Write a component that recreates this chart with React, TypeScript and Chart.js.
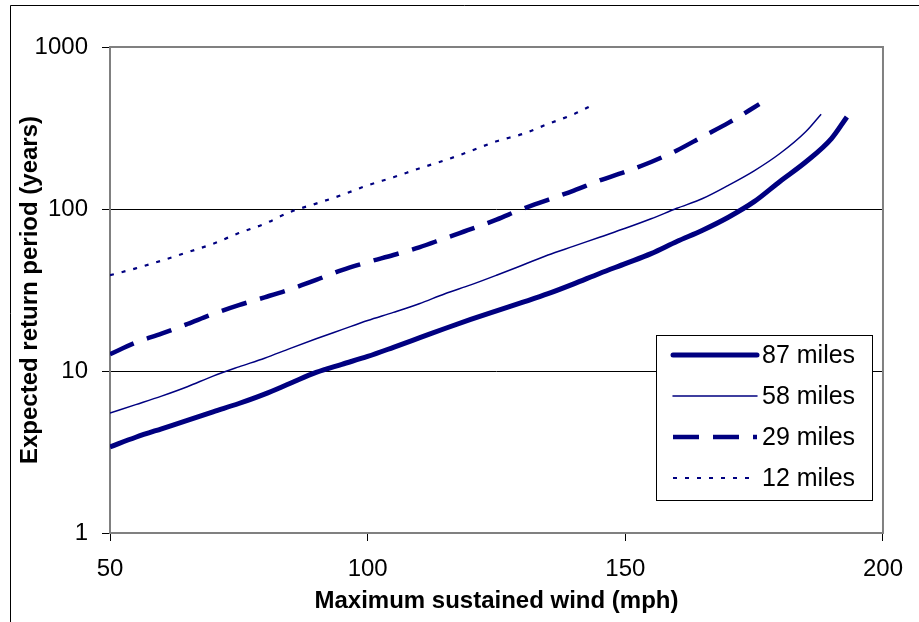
import React, { useEffect, useRef } from "react";
import { Chart, registerables } from "chart.js";

Chart.register(...registerables);

// ---- data ----
const speeds87 = [50, 55, 60, 65, 70, 75, 80, 85, 90, 95, 100, 105, 110, 115, 120, 125, 130, 135, 140, 145, 150, 155, 160, 165, 170, 175, 180, 185, 190, 193];
const period87 = [3.4, 3.9, 4.4, 4.95, 5.6, 6.3, 7.2, 8.4, 9.8, 11.0, 12.3, 14, 16, 18.3, 20.8, 23.5, 26.5, 30, 34.5, 40, 46, 53, 63, 74, 89, 111, 148, 195, 272, 370];

const speeds58 = [50, 55, 60, 65, 70, 75, 80, 85, 90, 95, 100, 105, 110, 115, 120, 125, 130, 135, 140, 145, 150, 155, 160, 165, 170, 175, 180, 185, 188];
const period58 = [5.5, 6.2, 7.0, 8.0, 9.3, 10.6, 12.0, 13.8, 15.8, 18.0, 20.5, 23, 26, 30, 34, 39, 45, 52, 59, 67, 76, 87, 101, 116, 140, 172, 220, 300, 385];

const speeds29 = [50, 55, 60, 65, 70, 75, 80, 85, 90, 95, 100, 105, 110, 115, 120, 125, 130, 135, 140, 145, 150, 155, 160, 165, 170, 176];
const period29 = [12.7, 15, 17, 19.5, 22.5, 25.5, 28.5, 32, 36.5, 42, 47, 52, 58, 66, 75, 86, 100, 114, 130, 150, 170, 195, 230, 280, 340, 444];

const speeds12 = [50, 55, 60, 65, 70, 75, 80, 85, 90, 95, 100, 105, 110, 115, 120, 125, 130, 135, 140, 144];
const period12 = [39, 43, 48, 54, 61, 71, 81, 96, 108, 122, 140, 157, 178, 200, 228, 262, 290, 335, 385, 444];

const seriesLabels = ["87 miles", "58 miles", "29 miles", "12 miles"];
const xTicks = [50, 100, 150, 200];
const yTicks = [1, 10, 100, 1000];
const xTitle = "Maximum sustained wind (mph)";
const yTitle = "Expected return period (years)";

const NAVY = "#000080";
const FONT = "'Liberation Sans', Arial, sans-serif";

const toPoints = (xs: number[], ys: number[]) => xs.map((x, i) => ({ x, y: ys[i] }));

const framePlugin = {
  id: "frame",
  beforeDraw(chart: any) {
    const ctx = chart.ctx;
    ctx.save();
    ctx.fillStyle = "#ffffff";
    ctx.fillRect(0, 0, chart.width, chart.height);
    ctx.strokeStyle = "#000000";
    ctx.lineWidth = 1;
    ctx.beginPath();
    ctx.moveTo(10.5, chart.height);
    ctx.lineTo(10.5, 5.5);
    ctx.lineTo(chart.width, 5.5);
    ctx.stroke();
    ctx.restore();
  },
  beforeDatasetsDraw(chart: any) {
    const { ctx, chartArea } = chart;
    ctx.save();
    ctx.strokeStyle = "#808080";
    ctx.lineWidth = 2;
    ctx.strokeRect(chartArea.left, chartArea.top, chartArea.right - chartArea.left, chartArea.bottom - chartArea.top);
    ctx.restore();
  },
};

const legendPlugin = {
  id: "boxLegend",
  afterDatasetsDraw(chart: any) {
    const ctx = chart.ctx;
    const box = { left: 656, top: 335, right: 872, bottom: 500 };
    const rowY = [355, 396, 437, 478];
    ctx.save();
    ctx.fillStyle = "#ffffff";
    ctx.fillRect(box.left, box.top, box.right - box.left, box.bottom - box.top);
    ctx.strokeStyle = "#000000";
    ctx.lineWidth = 1;
    ctx.strokeRect(box.left + 0.5, box.top + 0.5, box.right - box.left, box.bottom - box.top);
    chart.data.datasets.forEach((ds: any, i: number) => {
      const y = rowY[i];
      ctx.strokeStyle = ds.borderColor;
      ctx.lineWidth = ds.borderWidth;
      ctx.setLineDash(ds.borderDash || []);
      ctx.lineCap = ds.borderDash && ds.borderDash.length ? "butt" : "round";
      ctx.beginPath();
      ctx.moveTo(673, y);
      ctx.lineTo(757, y);
      ctx.stroke();
      ctx.setLineDash([]);
      ctx.fillStyle = "#000000";
      ctx.font = `25px ${FONT}`;
      ctx.textBaseline = "middle";
      ctx.textAlign = "left";
      ctx.fillText(ds.label, 762, y + 1);
    });
    ctx.restore();
  },
};

export default function App() {
  const canvasRef = useRef<HTMLCanvasElement | null>(null);

  useEffect(() => {
    document.body.style.margin = "0";
    const canvas = canvasRef.current;
    if (!canvas) return;
    const chart = new Chart(canvas, {
      type: "line",
      data: {
        datasets: [
          { label: seriesLabels[0], data: toPoints(speeds87, period87), borderColor: NAVY, borderWidth: 5, pointRadius: 0, cubicInterpolationMode: "monotone", fill: false },
          { label: seriesLabels[1], data: toPoints(speeds58, period58), borderColor: NAVY, borderWidth: 1.5, pointRadius: 0, cubicInterpolationMode: "monotone", fill: false },
          { label: seriesLabels[2], data: toPoints(speeds29, period29), borderColor: NAVY, borderWidth: 4.5, borderDash: [26, 14], pointRadius: 0, cubicInterpolationMode: "monotone", fill: false },
          { label: seriesLabels[3], data: toPoints(speeds12, period12), borderColor: NAVY, borderWidth: 2.2, borderDash: [4, 8], pointRadius: 0, cubicInterpolationMode: "monotone", fill: false },
        ] as any,
      },
      options: {
        responsive: false,
        animation: false,
        devicePixelRatio: 1,
        layout: { padding: { left: 0, right: 33, top: 47, bottom: 0 } },
        plugins: { legend: { display: false }, tooltip: { enabled: false } },
        scales: {
          x: {
            type: "linear",
            min: 50,
            max: 200,
            afterBuildTicks: (scale: any) => { scale.ticks = xTicks.map((v) => ({ value: v })); },
            afterFit: (scale: any) => { scale.height = 89; },
            grid: { drawOnChartArea: false, drawTicks: true, tickLength: 8, color: "#000000" },
            border: { display: false },
            ticks: { color: "#000000", padding: 16, font: { family: FONT, size: 24, lineHeight: 1 }, maxRotation: 0, callback: (v: any) => String(v) },
            title: { display: true, text: xTitle, color: "#000000", font: { family: FONT, size: 24, weight: "bold", lineHeight: 1.2 }, padding: { top: 0, bottom: 6 } },
          },
          y: {
            type: "logarithmic",
            min: 1,
            max: 1000,
            afterBuildTicks: (scale: any) => { scale.ticks = yTicks.map((v) => ({ value: v })); },
            afterFit: (scale: any) => { scale.width = 110; },
            grid: { drawOnChartArea: true, drawTicks: true, tickLength: 8, color: "#000000", lineWidth: 1 },
            border: { display: false },
            ticks: { color: "#000000", padding: 14, font: { family: FONT, size: 24 }, callback: (v: any) => String(v) },
            title: { display: true, text: yTitle, color: "#000000", font: { family: FONT, size: 24, weight: "bold", lineHeight: 1.2 }, padding: { top: 16, bottom: 0 } },
          },
        },
      } as any,
      plugins: [framePlugin, legendPlugin],
    });
    return () => chart.destroy();
  }, []);

  return (
    <div style={{ width: 919, height: 622 }}>
      <canvas ref={canvasRef} width={919} height={622} style={{ display: "block" }} />
    </div>
  );
}
